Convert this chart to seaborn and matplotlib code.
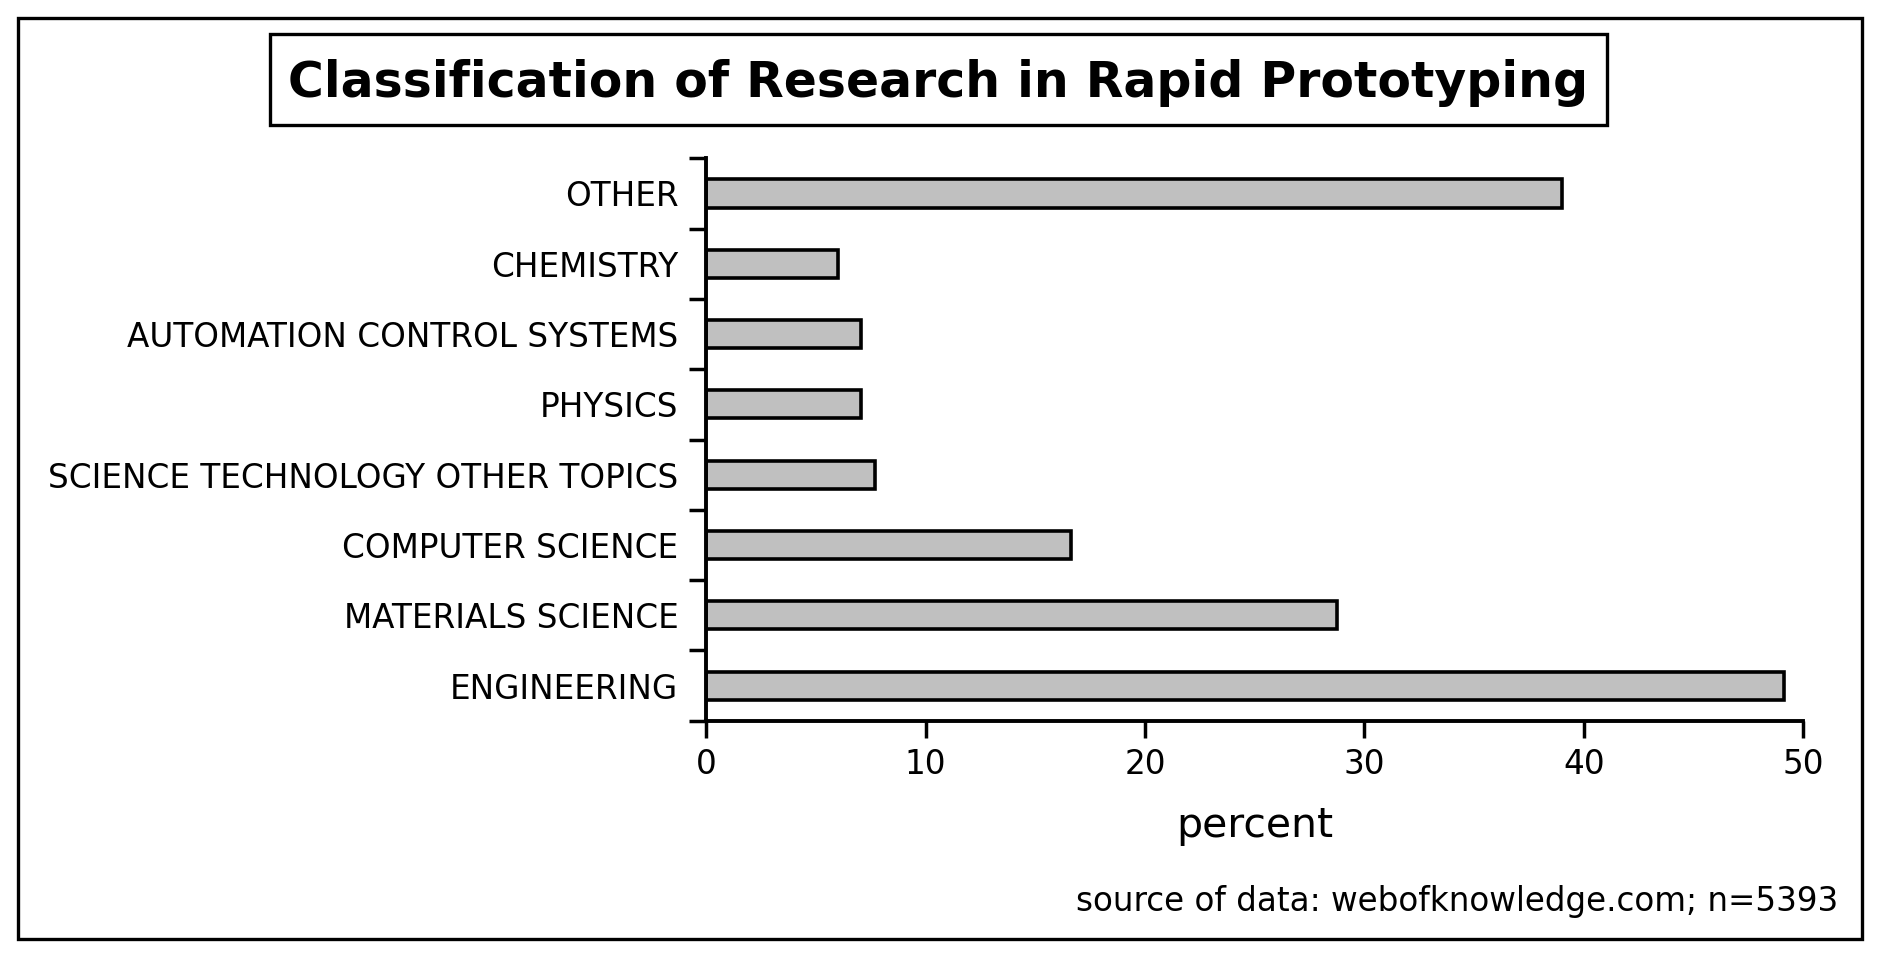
import numpy as np
import pandas as pd
import matplotlib
matplotlib.use("Agg")
import matplotlib.pyplot as plt
import seaborn as sns
from matplotlib.patches import Rectangle

# data (top to bottom)
categories = ["OTHER", "CHEMISTRY", "AUTOMATION CONTROL SYSTEMS", "PHYSICS",
              "SCIENCE TECHNOLOGY OTHER TOPICS", "COMPUTER SCIENCE",
              "MATERIALS SCIENCE", "ENGINEERING"]
percent = [39.0, 6.0, 7.05, 7.05, 7.7, 16.65, 28.75, 49.1]
x_ticks = [0, 10, 20, 30, 40, 50]

df = pd.DataFrame({"category": categories, "percent": percent})

sns.set_style("ticks")
plt.rcParams["font.family"] = ["DejaVu Sans"]
plt.rcParams["text.color"] = "black"
plt.rcParams["axes.labelcolor"] = "black"
plt.rcParams["xtick.color"] = "black"
plt.rcParams["ytick.color"] = "black"

fig = plt.figure(figsize=(18.8, 9.57), dpi=100)
ax = fig.add_axes([0.3756, 0.2469, 0.5836, 0.5877])

sns.barplot(data=df, x="percent", y="category", order=categories, orient="h",
            color="#c0c0c0", edgecolor="black", linewidth=2.6, width=0.4,
            saturation=1, ax=ax)

ax.set_xlim(0, 50)
ax.set_ylim(7.5, -0.5)
ax.set_xticks(x_ticks)
ax.set_xticklabels([str(t) for t in x_ticks], fontsize=23.5)

# boundary ticks as major, labels centred on bars as minor
ax.set_yticks(np.arange(-0.5, 8, 1))
ax.set_yticklabels([])
ax.set_yticks(range(len(categories)), minor=True)
ax.set_yticklabels(categories, minor=True, fontsize=23.5)
ax.tick_params(axis="y", which="major", length=12, width=2.5, direction="out")
ax.tick_params(axis="y", which="minor", length=0, pad=20)
ax.tick_params(axis="x", length=12, width=2.5, direction="out", pad=8)

sns.despine(ax=ax)
for s in ["left", "bottom"]:
    ax.spines[s].set_linewidth(2.8)
    ax.spines[s].set_color("black")

ax.set_ylabel("")
ax.set_xlabel("percent", fontsize=29.5, labelpad=18)

# title in a box
fig.patches.append(Rectangle((0.1435, 0.8697), 0.7111, 0.0952, transform=fig.transFigure,
                             fill=False, edgecolor="black", linewidth=2.4))
fig.text(0.499, 0.913, "Classification of Research in Rapid Prototyping",
         ha="center", va="center", fontsize=35.2, fontweight="bold")

fig.text(0.978, 0.058, "source of data: webofknowledge.com; n=5393",
         ha="right", va="center", fontsize=23.5)

# outer frame
fig.patches.append(Rectangle((0.0096, 0.0188), 0.9808, 0.9624, transform=fig.transFigure,
                             fill=False, edgecolor="black", linewidth=2.4))

fig.savefig("out.png", dpi=100)
